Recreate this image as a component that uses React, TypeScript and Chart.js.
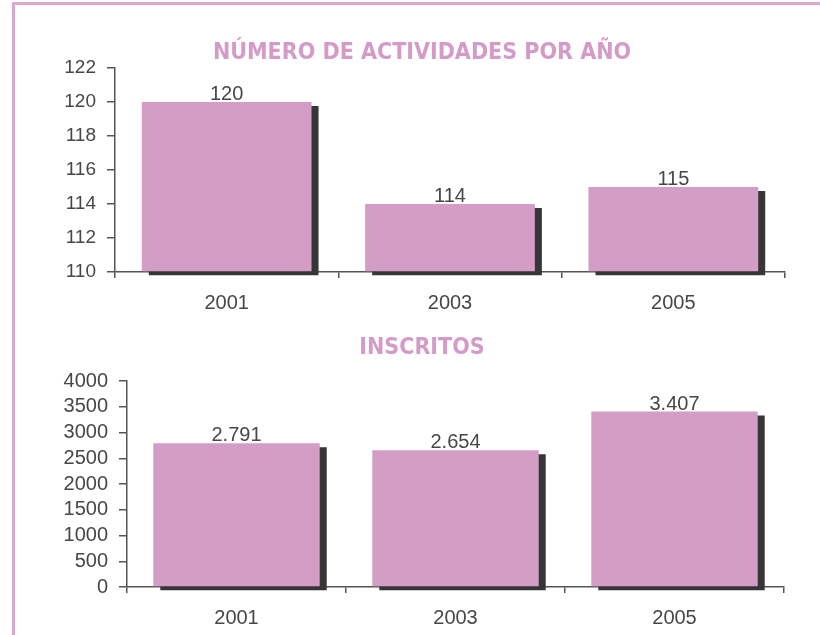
import React, { useEffect, useRef } from "react";
import { Chart, registerables } from "chart.js";

Chart.register(...registerables);

const years = ["2001", "2003", "2005"];
const actividades = [120, 114, 115];
const inscritos = [2791, 2654, 3407];
const titleTop = "NÚMERO DE ACTIVIDADES POR AÑO";
const titleBottom = "INSCRITOS";

const PINK = "#d39dc6";
const TITLE_PINK = "#d49bc8";
const TEXT = "#474747";
const AXIS = "#555555";
const SHADOW = "#363636";
const FONT = "'Liberation Sans', Arial, sans-serif";

const fmt = (v: number) => String(v).replace(/\B(?=(\d{3})+(?!\d))/g, ".");

const shadowPlugin = {
  id: "barShadow",
  beforeDatasetsDraw(chart: any) {
    const ctx = chart.ctx;
    ctx.save();
    ctx.shadowColor = SHADOW;
    ctx.shadowOffsetX = 7;
    ctx.shadowOffsetY = 4;
    ctx.shadowBlur = 0;
  },
  afterDatasetsDraw(chart: any) {
    chart.ctx.restore();
  },
};

const labelPlugin = {
  id: "barLabels",
  afterDraw(chart: any) {
    const ctx = chart.ctx;
    const meta = chart.getDatasetMeta(0);
    const data = chart.data.datasets[0].data as number[];
    ctx.save();
    ctx.font = `20px ${FONT}`;
    ctx.fillStyle = TEXT;
    ctx.textAlign = "center";
    ctx.textBaseline = "alphabetic";
    meta.data.forEach((el: any, i: number) => {
      ctx.fillText(fmt(data[i]), el.x, el.y - 2);
    });
    ctx.restore();
  },
};

function makeConfig(
  values: number[],
  min: number,
  max: number,
  step: number,
  yWidth: number,
  xHeight: number,
  padTop: number,
  padRight: number,
  yFontSize: number
): any {
  return {
    type: "bar",
    data: {
      labels: years,
      datasets: [
        {
          data: values,
          base: min,
          backgroundColor: PINK,
          borderWidth: 0,
          barPercentage: 1,
          categoryPercentage: 0.76,
          clip: false,
        },
      ],
    },
    options: {
      animation: false,
      responsive: false,
      maintainAspectRatio: false,
      events: [],
      layout: { padding: { top: padTop, right: padRight, left: 0, bottom: 0 } },
      plugins: { legend: { display: false }, title: { display: false }, tooltip: { enabled: false } },
      scales: {
        x: {
          afterFit: (s: any) => {
            s.height = xHeight;
          },
          grid: {
            offset: true,
            drawOnChartArea: false,
            drawTicks: true,
            tickLength: 6,
            color: AXIS,
            lineWidth: 1.5,
          },
          border: { display: true, color: AXIS, width: 1.5 },
          ticks: { color: TEXT, font: { family: FONT, size: 20 }, padding: 13 },
        },
        y: {
          min,
          max,
          afterFit: (s: any) => {
            s.width = yWidth;
          },
          grid: {
            drawOnChartArea: false,
            drawTicks: true,
            tickLength: 8,
            color: AXIS,
            lineWidth: 1.5,
          },
          border: { display: true, color: AXIS, width: 1.5 },
          ticks: {
            stepSize: step,
            autoSkip: false,
            color: TEXT,
            font: { family: FONT, size: yFontSize },
            padding: 11,
            callback: (v: any) => String(v),
          },
        },
      },
    },
    plugins: [shadowPlugin, labelPlugin],
  };
}

export default function App() {
  const topRef = useRef<HTMLCanvasElement>(null);
  const botRef = useRef<HTMLCanvasElement>(null);

  useEffect(() => {
    const c1 = new Chart(topRef.current!, makeConfig(actividades, 110, 122, 2, 115, 50, 68, 35, 19));
    const c2 = new Chart(botRef.current!, makeConfig(inscritos, 0, 4000, 500, 127, 48, 51, 36, 20));
    return () => {
      c1.destroy();
      c2.destroy();
    };
  }, []);

  const titleStyle: React.CSSProperties = {
    position: "absolute",
    left: 0,
    width: 844,
    textAlign: "center",
    fontFamily: "'DejaVu Sans Condensed', 'DejaVu Sans', sans-serif",
    fontWeight: "bold",
    fontSize: 23,
    lineHeight: "24px",
    color: TITLE_PINK,
    whiteSpace: "nowrap",
  };

  return (
    <div style={{ position: "fixed", left: 0, top: 0, width: 820, height: 635, background: "#fff", overflow: "hidden" }}>
      <div style={{ position: "absolute", left: 12, top: 2, width: 808, height: 3, background: "#d9a8d0" }} />
      <div style={{ position: "absolute", left: 12, top: 2, width: 3, height: 633, background: "#d9a8d0" }} />
      <canvas ref={topRef} width={820} height={322} style={{ position: "absolute", left: 0, top: 0, width: 820, height: 322 }} />
      <canvas ref={botRef} width={820} height={305} style={{ position: "absolute", left: 0, top: 330, width: 820, height: 305 }} />
      <div style={{ ...titleStyle, top: 39 }}>{titleTop}</div>
      <div style={{ ...titleStyle, top: 334 }}>{titleBottom}</div>
    </div>
  );
}
